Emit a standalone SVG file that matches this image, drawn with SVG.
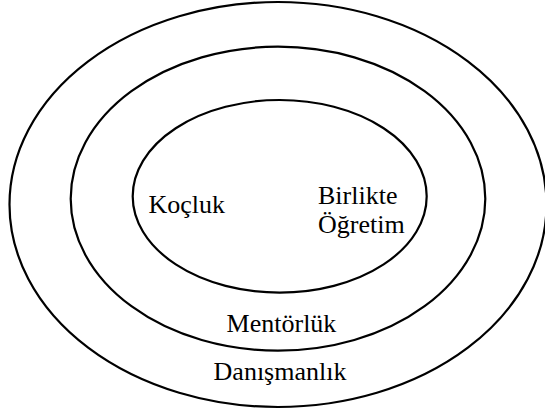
<svg xmlns="http://www.w3.org/2000/svg" width="545" height="414" viewBox="0 0 545 414">
<style>
.ring{fill:none;stroke:#000;stroke-width:2.2}
.t{font-family:"Liberation Serif","Times New Roman",serif;font-size:26px;fill:#000}
</style>
<rect width="545" height="414" fill="#fff"/>
<g id="danismanlik">
<ellipse class="ring" cx="278" cy="204.5" rx="268.5" ry="202.5"/>
<text class="t" x="280" y="380" text-anchor="middle">Danışmanlık</text>
</g>
<g id="mentorluk">
<ellipse class="ring" cx="278" cy="198.7" rx="207.3" ry="152"/>
<text class="t" x="281.5" y="331.5" text-anchor="middle">Mentörlük</text>
</g>
<g id="ic">
<ellipse class="ring" cx="279.7" cy="196.3" rx="147" ry="96.3"/>
</g>
<g id="kocluk">
<text class="t" x="148.5" y="212.5">Koçluk</text>
</g>
<g id="birlikte">
<text class="t" x="318" y="204">Birlikte</text>
<text class="t" x="318" y="233">Öğretim</text>
</g>
</svg>
